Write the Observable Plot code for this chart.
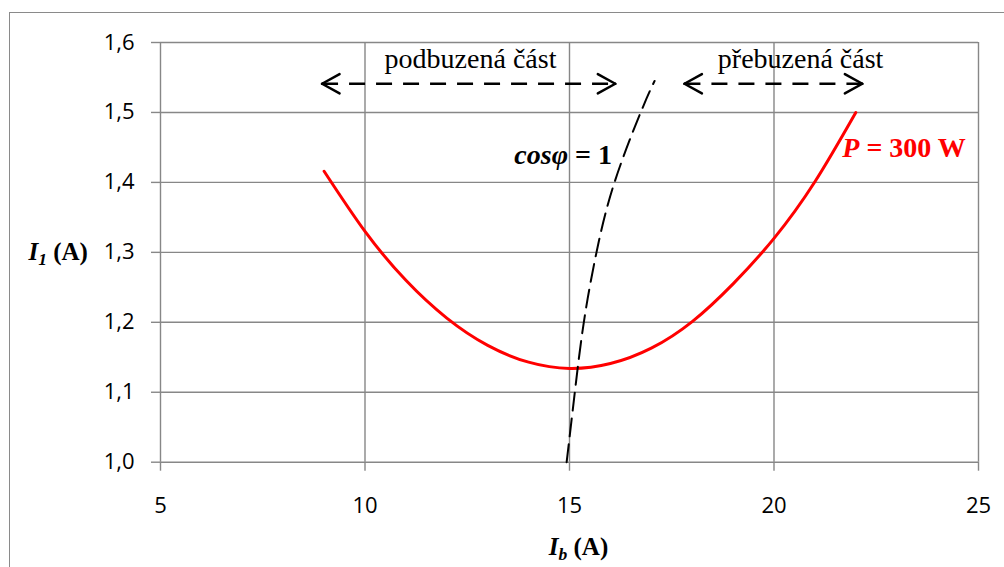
<!DOCTYPE html>
<html>
<head>
<meta charset="utf-8">
<script src="https://cdn.jsdelivr.net/npm/d3@7"></script>
<script src="https://cdn.jsdelivr.net/npm/@observablehq/plot@0.6"></script>
<style>
  html, body { margin: 0; padding: 0; background: #fff; width: 1004px; height: 567px; overflow: hidden; }
  #chart { position: absolute; left: 0; top: 0; }
  #frame { position: absolute; left: 9px; top: 12px; width: 1200px; height: 800px;
           border-top: 1.5px solid #8a8a8a; border-left: 1.5px solid #8a8a8a; pointer-events: none; z-index: 2; }
</style>
</head>
<body>
<div id="chart"></div>
<div id="frame"></div>
<script>
// V-curve of a synchronous machine: stator current I1 versus excitation current Ib at P = 300 W
const excitation    = [9, 10, 11, 12, 13, 14, 15, 16, 17, 18, 19, 20, 21, 22];
const statorCurrent = [1.416, 1.330, 1.260, 1.206, 1.167, 1.143, 1.134, 1.141, 1.163, 1.201, 1.255, 1.320, 1.401, 1.500];

// Locus of unity power factor (cos φ = 1)
const unityIb = [14.93, 15.13, 15.35, 15.66, 16.10, 16.74, 17.08];
const unityI1 = [1.00, 1.10, 1.20, 1.30, 1.40, 1.50, 1.545];

// Region arrows: under-excited and over-excited parts
const regionLabels = ["podbuzená část", "přebuzená část"];
const regionFrom   = [8.95, 17.81];
const regionTo     = [16.12, 22.16];
const regionLabelX = [12.58, 20.65];

// Axis ticks and texts
const xTicks = [5, 10, 15, 20, 25];
const yTicks = [1.0, 1.1, 1.2, 1.3, 1.4, 1.5, 1.6];
const xTitle = "Ib (A)";
const yTitle = "I1 (A)";
const curveLabel = "P = 300 W";
const unityLabel = "cosφ = 1";

const powerCurve = excitation.map((x, i) => ({x, y: statorCurrent[i]}));
const unityCurve = unityIb.map((x, i) => ({x, y: unityI1[i]}));
const regions = regionLabels.map((label, i) => ({label, from: regionFrom[i], to: regionTo[i], labelX: regionLabelX[i]}));
const arrowLevel = 1.541;
const labelLevel = 1.563;

// open chevron heads: two wings per tip
const heads = regions.flatMap(r => [
  {x: r.from, angle: 61}, {x: r.from, angle: 119},
  {x: r.to, angle: -61}, {x: r.to, angle: -119}
]);
const wing = { draw(context, l) { context.moveTo(0, 0); context.lineTo(0, -l); } };

const gridColor = "#878787";
const serif = "'Liberation Serif', 'Times New Roman', serif";
const sans = "'Open Sans', sans-serif";
const fmt = d => d3.format(".1f")(d).replace(".", ",");

const chart = Plot.plot({
  width: 1004,
  height: 567,
  marginLeft: 160,
  marginRight: 26,
  marginTop: 42,
  marginBottom: 105.3,
  x: {domain: [5, 25]},
  y: {domain: [1.0, 1.6]},
  style: {fontFamily: sans, fontSize: "22px", color: "black", background: "transparent"},
  marks: [
    Plot.gridY(yTicks, {stroke: gridColor, strokeOpacity: 1, strokeWidth: 1.4}),
    Plot.gridX(xTicks, {stroke: gridColor, strokeOpacity: 1, strokeWidth: 1.4}),
    Plot.axisY(yTicks, {tickSize: 9, tickPadding: 17, stroke: gridColor, strokeWidth: 1.4, tickFormat: fmt, label: null, fontSize: 22, fontFamily: sans}),
    Plot.axisX(xTicks, {tickSize: 9, tickPadding: 26, stroke: gridColor, strokeWidth: 1.4, tickFormat: d => String(d), label: null, fontSize: 22, fontFamily: sans}),
    Plot.line(powerCurve, {x: "x", y: "y", curve: "natural", stroke: "#ff0000", strokeWidth: 3}),
    Plot.line(unityCurve, {x: "x", y: "y", curve: "natural", stroke: "black", strokeWidth: 2, strokeDasharray: "18,8"}),
    Plot.link(regions, {x1: "from", x2: "to", y1: arrowLevel, y2: arrowLevel, stroke: "black", strokeWidth: 2.5, strokeDasharray: "16,11"}),
    Plot.vector(heads, {x: "x", y: arrowLevel, rotate: "angle", length: 20, anchor: "start", shape: wing, stroke: "black", strokeWidth: 2.5}),
    Plot.text(regions, {x: "labelX", y: labelLevel, text: "label", lineAnchor: "bottom", fontFamily: serif, fontSize: 28}),
    Plot.text([unityLabel], {x: 16.04, y: 1.427, textAnchor: "end", lineAnchor: "bottom", fontFamily: serif, fontSize: 28, fontWeight: "bold"}),
    Plot.text([curveLabel], {x: 21.67, y: 1.436, textAnchor: "start", lineAnchor: "bottom", fontFamily: serif, fontSize: 28, fontWeight: "bold", fill: "#ff0000"}),
    Plot.text([yTitle], {frameAnchor: "left", dx: -132, textAnchor: "start", fontFamily: serif, fontSize: 25, fontWeight: "bold"}),
    Plot.text([xTitle], {frameAnchor: "bottom", dx: 9, dy: 93, lineAnchor: "bottom", fontFamily: serif, fontSize: 25, fontWeight: "bold"})
  ]
});

document.getElementById("chart").appendChild(chart);

// Rich text: italics and subscripts inside the single-line labels
function richText(original, parts) {
  d3.select(chart).selectAll("text").filter(function () { return this.textContent === original; })
    .each(function () {
      const t = d3.select(this);
      t.text(null);
      parts.forEach(p => {
        const s = t.append("tspan").text(p.t);
        if (p.italic) s.attr("font-style", "italic");
        if (p.sub) s.attr("font-size", "0.7em").attr("dy", "0.28em");
        if (p.unsub) s.attr("dy", "-0.2em");
      });
    });
}
richText(yTitle, [{t: "I", italic: true}, {t: "1", italic: true, sub: true}, {t: " (A)", unsub: true}]);
richText(xTitle, [{t: "I", italic: true}, {t: "b", italic: true, sub: true}, {t: " (A)", unsub: true}]);
richText(unityLabel, [{t: "cosφ", italic: true}, {t: " = 1"}]);
richText(curveLabel, [{t: "P", italic: true}, {t: " = 300 W"}]);
</script>
</body>
</html>
